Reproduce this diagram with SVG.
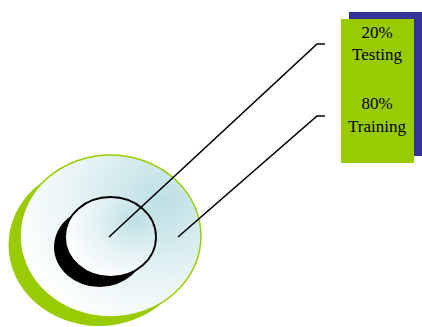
<svg xmlns="http://www.w3.org/2000/svg" width="422" height="327" viewBox="0 0 422 327">
<defs>
<radialGradient id="g" cx="0.78" cy="0.28" r="0.85" fx="0.78" fy="0.28">
<stop offset="0" stop-color="#bcdfe4"/>
<stop offset="0.55" stop-color="#e6f3f5"/>
<stop offset="1" stop-color="#ffffff"/>
</radialGradient>
<style>
.lbl{font-family:"Liberation Serif","Times New Roman",serif;font-size:17px;fill:#000;text-anchor:middle}
.ln{fill:none;stroke:#000;stroke-width:1.6}
</style>
</defs>
<g id="target">
<ellipse cx="99" cy="245" rx="90.5" ry="81" fill="#99cc00"/>
<ellipse cx="110.5" cy="236" rx="90.5" ry="81" fill="url(#g)" stroke="#99cc00" stroke-width="1.5"/>
<ellipse cx="99.5" cy="247" rx="45.5" ry="40" fill="#000"/>
<ellipse cx="110.5" cy="237" rx="45.5" ry="40" fill="url(#g)" stroke="#000" stroke-width="1.8"/>
</g>
<g id="box">
<rect x="349" y="12" width="73" height="144" fill="#333399"/>
<rect x="341" y="19" width="73" height="144" fill="#99cc00"/>
<text class="lbl" x="377" y="37.5">20%</text>
<text class="lbl" x="377" y="60">Testing</text>
<text class="lbl" x="377" y="109.3">80%</text>
<text class="lbl" x="377" y="131.5">Training</text>
</g>
<g id="connectors">
<polyline class="ln" points="109,237 317,44 325,44"/>
<polyline class="ln" points="178,237 317,116 325,116"/>
</g>
</svg>
